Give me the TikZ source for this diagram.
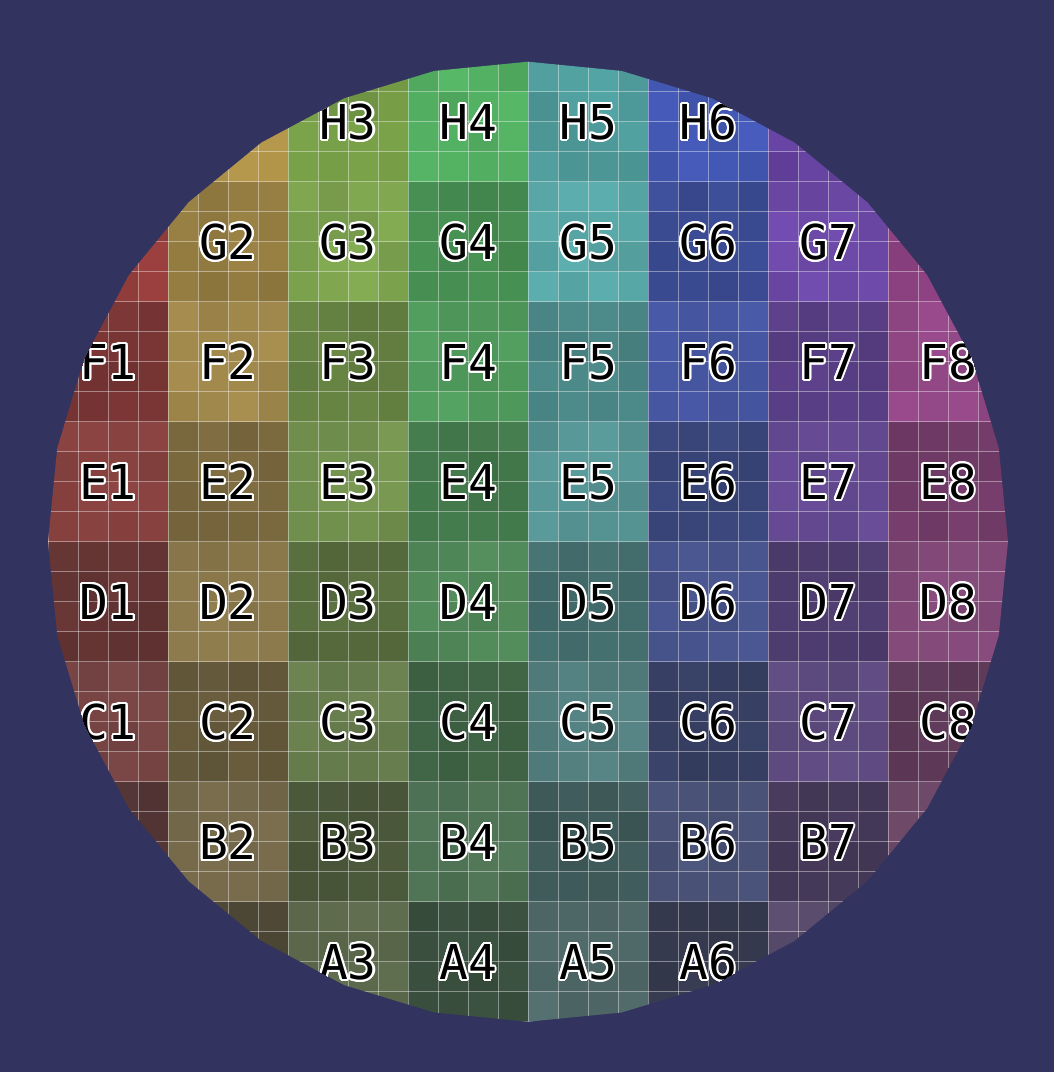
\documentclass[tikz,border=0pt]{standalone}
\usepackage{fontspec}
\usepackage[copies]{contour}
\newfontfamily\wafermono{DejaVu Sans Mono}
\contourlength{2pt}
\contournumber{24}
\definecolor{waferbg}{RGB}{51,51,96}
\definecolor{fadegray}{RGB}{80,80,80}
\definecolor{col0}{RGB}{168,64,62}
\definecolor{col1}{RGB}{192,160,80}
\definecolor{col2}{RGB}{140,186,84}
\definecolor{col3}{RGB}{88,186,104}
\definecolor{col4}{RGB}{96,188,188}
\definecolor{col5}{RGB}{72,94,192}
\definecolor{col6}{RGB}{120,78,190}
\definecolor{col7}{RGB}{176,76,160}
\tikzset{
  chiplabel/.style={font=\wafermono\fontsize{48}{48}\selectfont, inner sep=0pt},
  gridline/.style={white, opacity=0.4, line width=0.8pt}
}

\begin{document}
\begin{tikzpicture}[x=1pt,y=-1pt]
\fill[waferbg] (0,0) rectangle (1054,1072);
\begin{scope}
  \clip plot[samples=33, domain=0:360] ({528+480*sin(\x)},{541.7-480*cos(\x)}) -- cycle;
  \pgfmathsetseed{42}
  \foreach \r in {0,...,7}
    \foreach \c in {0,...,7} {
      \pgfmathtruncatemacro\fadeval{100-10*\r}
      \pgfmathtruncatemacro\darkval{88-2*\r}
      \pgfmathtruncatemacro\parity{mod(\r+\c,2)}
      \ifnum\parity=1 \colorlet{cellcol}{col\c!\fadeval!fadegray}
      \else \colorlet{cellcol}{col\c!\fadeval!fadegray!\darkval!black}\fi
      \fill[cellcol] (48+120*\c,61.7+120*\r) rectangle ++(120,120);
      \foreach \i in {0,...,3}
        \foreach \j in {0,...,3} {
          \pgfmathsetmacro\spot{0.11*rnd}
          \fill[black, opacity=\spot] (48+120*\c+30*\i,61.7+120*\r+30*\j) rectangle ++(30,30);
        }
    }
  \foreach \k in {0,...,32} {
    \draw[gridline] (48+30*\k,61.7) -- ++(0,960);
    \draw[gridline] (48,61.7+30*\k) -- ++(960,0);
  }
  \foreach \row/\r/\cols in {H/0/{3,...,6}, G/1/{2,...,7}, F/2/{1,...,8}, E/3/{1,...,8},
                             D/4/{1,...,8}, C/5/{1,...,8}, B/6/{2,...,7}, A/7/{3,...,6}}
    \foreach \c in \cols
      \node[chiplabel] (\row\c) at (120*\c-12,123+120*\r) {\contour{white}{\row\c}};
\end{scope}
\end{tikzpicture}
\end{document}
